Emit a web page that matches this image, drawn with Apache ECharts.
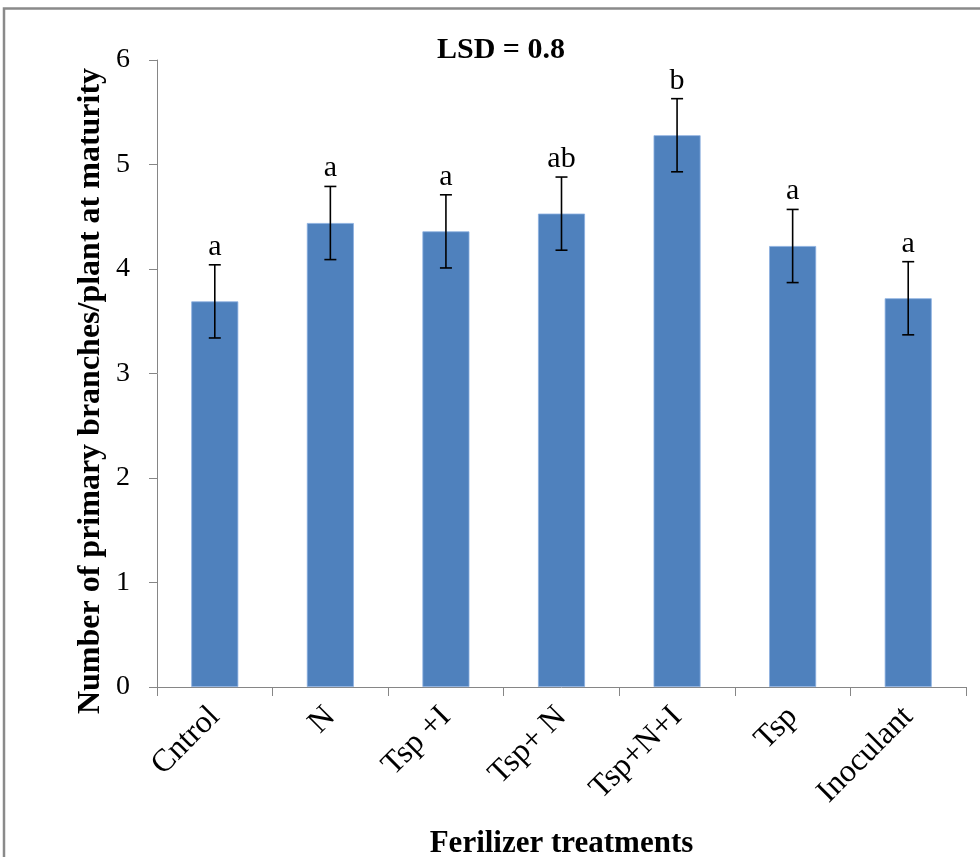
<!DOCTYPE html>
<html>
<head>
<meta charset="utf-8">
<script src="https://cdn.jsdelivr.net/npm/echarts@6/dist/echarts.min.js"></script>
<style>
  html, body { margin: 0; padding: 0; background: #fff; overflow: hidden; }
  #chart { width: 980px; height: 857px; }
</style>
</head>
<body>
<div id="chart"></div>
<script>
// Treatments on the x axis
const categories = ['Cntrol', 'N', 'Tsp +I', 'Tsp+ N', 'Tsp+N+I', 'Tsp', 'Inoculant'];
// Mean number of primary branches per plant at maturity
const branches = [3.69, 4.44, 4.36, 4.53, 5.28, 4.22, 3.72];
// Standard error for each treatment
const stdErr = [0.35, 0.35, 0.35, 0.35, 0.35, 0.35, 0.35];
// Mean separation letters
const letters = ['a', 'a', 'a', 'ab', 'b', 'a', 'a'];
// Value axis range
const yMin = 0, yMax = 6, yStep = 1;

const serif = "'Liberation Serif', 'Times New Roman', serif";
const axisGray = '#868686';

const chart = echarts.init(document.getElementById('chart'), null, { renderer: 'canvas', width: 980, height: 857 });

const errData = categories.map((c, i) => [i, branches[i], stdErr[i]]);

chart.setOption({
  animation: false,
  backgroundColor: '#fff',
  title: {
    text: 'LSD = 0.8',
    left: 432,
    top: 30,
    textStyle: { fontFamily: serif, fontSize: 30, fontWeight: 'bold', color: '#000' }
  },
  graphic: [
    {
      type: 'rect',
      shape: { x: 4, y: 8.5, width: 1000, height: 900 },
      style: { fill: 'none', stroke: '#8a8a8a', lineWidth: 2.5 },
      silent: true
    },
    {
      // value axis title
      type: 'text',
      x: 91, y: 391,
      rotation: Math.PI / 2,
      style: {
        text: 'Number of primary branches/plant at maturity',
        textAlign: 'center', textVerticalAlign: 'middle',
        font: 'bold 32px ' + serif,
        fill: '#000'
      },
      silent: true
    }
  ],
  grid: { left: 157, width: 809, top: 60, height: 627, containLabel: false, outerBoundsMode: 'none' },
  xAxis: {
    type: 'category',
    data: categories,
    name: 'Ferilizer treatments',
    nameLocation: 'middle',
    nameGap: 141,
    nameTextStyle: { fontFamily: serif, fontSize: 31, fontWeight: 'bold', color: '#000', verticalAlign: 'top' },
    axisLine: { lineStyle: { color: axisGray, width: 1 } },
    axisTick: { show: true, length: 9, lineStyle: { color: axisGray } },
    axisLabel: { rotate: 45, margin: 25, fontFamily: serif, fontSize: 32, color: '#000', interval: 0 }
  },
  yAxis: {
    type: 'value',
    min: yMin, max: yMax, interval: yStep,
    axisLine: { show: true, lineStyle: { color: axisGray, width: 1 } },
    axisTick: { show: true, length: 8, lineStyle: { color: axisGray } },
    splitLine: { show: false },
    axisLabel: { margin: 27, fontFamily: serif, fontSize: 28, color: '#000' }
  },
  series: [
    {
      type: 'bar',
      data: branches,
      barWidth: 47,
      itemStyle: { color: '#4F81BD', borderColor: '#8aaee0', borderWidth: 0.8 },
      z: 2
    },
    {
      type: 'custom',
      data: errData,
      z: 3,
      renderItem: function (params, api) {
        const i = api.value(0);
        const v = api.value(1);
        const e = api.value(2);
        const hi = api.coord([i, v + e]);
        const lo = api.coord([i, v - e]);
        const cap = 6;
        const st = { stroke: '#000', lineWidth: 1.6 };
        return {
          type: 'group',
          children: [
            { type: 'line', shape: { x1: hi[0], y1: hi[1], x2: lo[0], y2: lo[1] }, style: st },
            { type: 'line', shape: { x1: hi[0] - cap, y1: hi[1], x2: hi[0] + cap, y2: hi[1] }, style: st },
            { type: 'line', shape: { x1: lo[0] - cap, y1: lo[1], x2: lo[0] + cap, y2: lo[1] }, style: st },
            {
              type: 'text',
              style: {
                text: letters[params.dataIndex],
                x: hi[0], y: hi[1] - 3,
                textAlign: 'center', textVerticalAlign: 'bottom',
                font: '30px ' + serif,
                fill: '#000'
              }
            }
          ]
        };
      }
    }
  ]
});
</script>
</body>
</html>
